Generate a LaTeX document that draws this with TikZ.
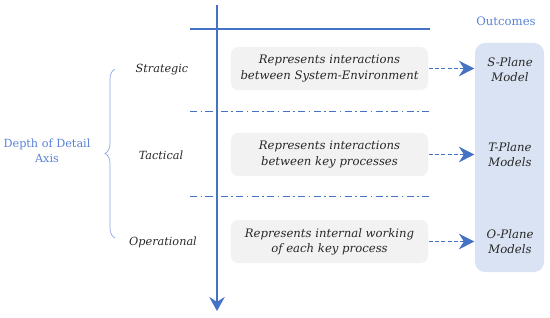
\documentclass[tikz,border=0pt]{standalone}
\usepackage{fontspec}
\setmainfont{DejaVu Serif}
\usetikzlibrary{positioning, arrows.meta, decorations.pathreplacing}
\definecolor{axisblue}{RGB}{68,114,196}
\definecolor{labelblue}{RGB}{90,130,214}
\definecolor{boxgray}{RGB}{242,242,242}
\definecolor{outfill}{RGB}{218,227,243}
\definecolor{inkgray}{RGB}{40,40,40}
\tikzset{every picture/.append style={thick}}

\begin{document}
\begin{tikzpicture}[x=0.025cm, y=-0.025cm,
    desc/.style={fill=boxgray, rounded corners=0.18cm, minimum width=4.925cm, minimum height=1.075cm,
        align=center, inner sep=0pt, text=inkgray, font=\itshape\fontsize{8.3}{10.8}\selectfont},
    level/.style={text=inkgray, font=\itshape\fontsize{8}{9}\selectfont},
    outtxt/.style={align=center, text=inkgray, font=\itshape\fontsize{8.3}{10.8}\selectfont},
    outbox/.style={fill=outfill, rounded corners=0.25cm, minimum width=1.725cm, minimum height=5.725cm, inner sep=0pt},
    axisline/.style={axisblue, line width=1.4pt},
    sepline/.style={axisblue, line width=0.6pt, dash pattern=on 5pt off 2.5pt on 1pt off 2.5pt},
    dasharrow/.style={axisblue, line width=1.3pt, dash pattern=on 3pt off 1.5pt, -{Stealth[length=11pt, width=11pt, inset=3.5pt]}}]

    \useasboundingbox (0,0) rectangle (550,317);

    % --- Axis and grid lines ---
    \coordinate (axtop) at (217,5);
    \coordinate (axbot) at (217,311);
    \coordinate (lineL) at (190,29);
    \coordinate (lineR) at (430,29);
    \draw[axisline, -{Stealth[length=10pt, width=11pt, inset=3.5pt]}] (axtop) -- (axbot);
    \draw[axisline] (lineL) -- (lineR);
    \foreach \y in {111, 196} {
        \draw[sepline] (190,\y) -- (430,\y);
    }

    % --- Levels ---
    \node[level] (strat) at (162,70) {Strategic};
    \node[level] (tact) at (161,155) {Tactical};
    \node[level] (oper) at (163,242) {Operational};

    % --- Brace and axis label ---
    \coordinate (braceB) at (115,238);
    \coordinate (braceT) at (115,69);
    \draw[labelblue!70, line width=0.5pt, decorate, decoration={brace, amplitude=0.25cm}] (braceB) -- (braceT);
    \node[labelblue, align=center, font=\fontsize{8}{11}\selectfont] (depth) at (47,151) {Depth of Detail\\Axis};

    % --- Description boxes ---
    \node[desc] (rep1) at (329.5,68.5) {Represents interactions\\between System-Environment};
    \node[desc] (rep2) at (329.5,154.5) {Represents interactions\\between key processes};
    \node[desc] (rep3) at (329.5,241.5) {Represents internal working\\of each key process};

    % --- Outcomes ---
    \node[labelblue, font=\fontsize{8.3}{10}\selectfont] (outhead) at (506,21) {Outcomes};
    \node[outbox] (outbox) at (509.5,157.5) {};
    \node[outtxt] (splane) at (510,70) {S-Plane\\Model};
    \node[outtxt] (tplane) at (510,155) {T-Plane\\Models};
    \node[outtxt] (oplane) at (510,242) {O-Plane\\Models};

    \foreach \r in {rep1, rep2, rep3} {
        \draw[dasharrow] (\r.east) -- (\r.east -| outbox.west);
    }
\end{tikzpicture}
\end{document}
